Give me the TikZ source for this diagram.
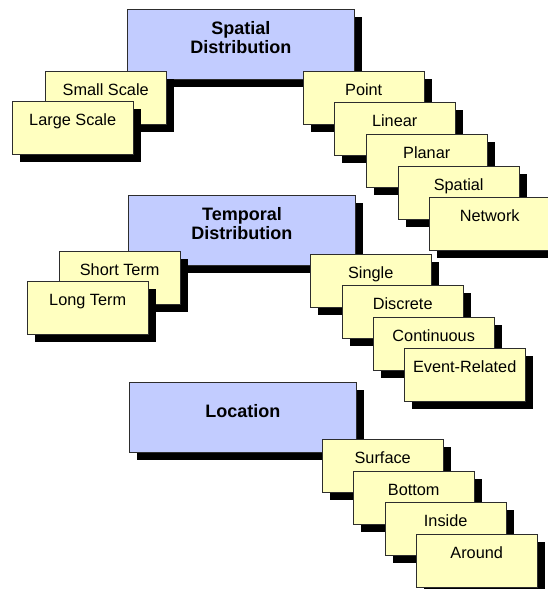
\documentclass[tikz,border=0pt]{standalone}
\usepackage{fontspec}
\setmainfont{Liberation Sans}
\usetikzlibrary{shadows}

\definecolor{topicblue}{RGB}{194,204,255}
\definecolor{itemyellow}{RGB}{255,255,192}
\definecolor{edgegray}{RGB}{45,45,45}

\tikzset{
  shadowed/.style={general shadow={fill=black, shadow xshift=8pt, shadow yshift=-8pt}},
  panel/.style={shadowed, draw=edgegray, line width=0.9pt, inner sep=0pt, anchor=north west},
  topic/.style={panel, fill=topicblue, minimum width=227pt, minimum height=70pt,
    font=\bfseries\fontsize{18}{18.5}\selectfont, align=center},
  topictwo/.style={topic, text height=31.5pt, text depth=13.5pt},
  topicone/.style={topic, text height=13pt, text depth=12.4pt},
  item/.style={panel, fill=itemyellow, minimum width=120.5pt, minimum height=52.5pt,
    font=\fontsize{16.3}{18}\selectfont, text height=11pt, text depth=14.5pt}
}

\begin{document}
\begin{tikzpicture}[x=1pt, y=-1pt]
  \useasboundingbox (0,0) rectangle (548,589);
  \clip (0,0) rectangle (548,589);

  % Spatial distribution
  \node[topictwo] (spatialdist) at (127,9) {Spatial\\Distribution};
  \node[item] (small) at (45,71) {Small Scale};
  \node[item] (large) at (12,101) {Large Scale};
  \node[item] (point) at (303,71) {Point};
  \node[item] (linear) at (334,102) {Linear};
  \node[item] (planar) at (366,134) {Planar};
  \node[item] (spatial) at (398,166) {Spatial};
  \node[item] (network) at (429,197) {Network};

  % Temporal distribution
  \node[topictwo] (temporaldist) at (128,195) {Temporal\\Distribution};
  \node[item] (short) at (59,251) {Short Term};
  \node[item] (long) at (27,281) {Long Term};
  \node[item] (single) at (310,254) {Single};
  \node[item] (discrete) at (342,285) {Discrete};
  \node[item] (continuous) at (373,317) {Continuous};
  \node[item] (event) at (404,348) {Event-Related};

  % Location
  \node[topicone] (location) at (129,382) {Location};
  \node[item] (surface) at (322,439) {Surface};
  \node[item] (bottom) at (353,471) {Bottom};
  \node[item] (inside) at (385,502) {Inside};
  \node[item] (around) at (416,534) {Around};
\end{tikzpicture}
\end{document}
